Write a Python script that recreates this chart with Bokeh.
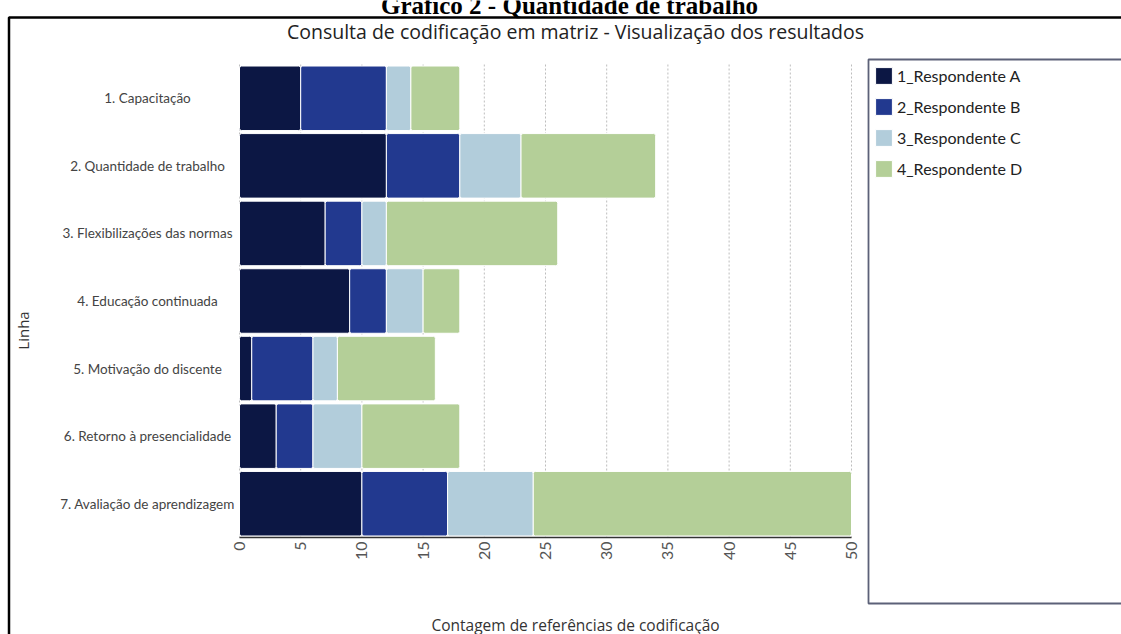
import math
from bokeh.plotting import figure
from bokeh.models import (ColumnDataSource, Range1d, Legend, LegendItem,
                          LabelSet, Label, BoxAnnotation)
from bokeh.embed import file_html
from bokeh.resources import INLINE
from bokeh.core.properties import value

categories = ["1. Capacitação", "2. Quantidade de trabalho", "3. Flexibilizações das normas",
              "4. Educação continuada", "5. Motivação do discente",
              "6. Retorno à presencialidade", "7. Avaliação de aprendizagem"]
series = ["1_Respondente A", "2_Respondente B", "3_Respondente C", "4_Respondente D"]
resp_a = [5, 12, 7, 9, 1, 3, 10]
resp_b = [7, 6, 3, 3, 5, 3, 7]
resp_c = [2, 5, 2, 3, 2, 4, 7]
resp_d = [4, 11, 14, 3, 8, 8, 26]
x_ticks = list(range(0, 55, 5))
colors = ["#0c1744", "#22398f", "#b2cddb", "#b4cf98"]

W, H = 1121, 634
FONT = "Open Sans"

# layout of the plotting area inside the canvas (pixels)
PLOT_L, PLOT_R = 239, 851          # x of first and last tick value
PLOT_T, PLOT_B = 64, 537           # top of first row, bottom of last row
n = len(categories)
PX = (PLOT_R - PLOT_L) / (x_ticks[-1] - x_ticks[0])
ROW = (PLOT_B - PLOT_T) / n

rows = list(range(n))
source = ColumnDataSource(dict(row=rows, cat=categories,
                               **{series[0]: resp_a, series[1]: resp_b,
                                  series[2]: resp_c, series[3]: resp_d}))

p = figure(width=W, height=H,
           x_range=Range1d(-PLOT_L / PX, (W - PLOT_L) / PX),
           y_range=Range1d(-0.5 + (H - PLOT_T) / ROW, -0.5 - PLOT_T / ROW),
           x_axis_type=None, y_axis_type=None,
           output_backend="svg", toolbar_location=None,
           min_border=0)
p.outline_line_color = None
p.background_fill_color = "white"
p.border_fill_color = "white"

# grid lines (dotted)
p.segment(x0=x_ticks, x1=x_ticks, y0=-0.5, y1=n - 0.5, line_color="#bdbdbd",
          line_dash="2 2", line_width=1)

renderers = p.hbar_stack(series, y="row", height=0.955, color=colors, source=source,
                         line_color="white", line_width=1, border_radius=2)

# x axis line and tick labels
p.segment(x0=x_ticks[0], x1=x_ticks[-1], y0=n - 0.5, y1=n - 0.5,
          line_color="#333333", line_width=1.5)
tick_src = ColumnDataSource(dict(t=x_ticks, tl=[str(t) for t in x_ticks]))
p.add_layout(LabelSet(x="t", y=n - 0.5, text="tl", source=tick_src, angle=math.pi / 2,
                      y_offset=-4, text_align="right", text_baseline="middle",
                      text_font=value("Lato"), text_font_size="16px", text_color="#555555"))

# category labels, centered left of the plot
p.add_layout(LabelSet(x=147, y="row", text="cat", source=source, x_units="screen",
                      text_align="center", text_baseline="middle",
                      text_font=value("Lato"), text_font_size="13.5px", text_color="#444444"))

# legend (tuple location = bottom-left corner, measured from the bottom)
LEG_TOP, GLYPH, GAP = 65, 21, 10
leg_h = len(series) * GLYPH + (len(series) - 1) * GAP
legend = Legend(items=[LegendItem(label=s, renderers=[r]) for s, r in zip(series, renderers)],
                location=(873, H - LEG_TOP - leg_h), padding=0, margin=0,
                border_line_color=None, background_fill_alpha=0,
                glyph_width=GLYPH, glyph_height=GLYPH, label_height=GLYPH,
                spacing=GAP, label_standoff=3, label_text_font="Lato",
                label_text_font_size="16px", label_text_color="#222222")
p.add_layout(legend, "center")

# legend frame
p.add_layout(BoxAnnotation(left=868, right=1400, top=H - 59, bottom=H - 603,
                           left_units="screen", right_units="screen",
                           top_units="screen", bottom_units="screen",
                           fill_alpha=0, line_color="#5c6178", line_alpha=1, line_width=1.8))
# outer black frame
p.add_layout(BoxAnnotation(left=8.5, right=1400, top=H - 17, bottom=-100,
                           left_units="screen", right_units="screen",
                           top_units="screen", bottom_units="screen",
                           fill_alpha=0, line_color="black", line_alpha=1, line_width=2.5))

# texts
p.add_layout(Label(x=569, y=H - 5, x_units="screen", y_units="screen",
                   text="Gráfico 2 - Quantidade de trabalho", text_align="center",
                   text_baseline="alphabetic", text_font="Liberation Serif",
                   text_font_style="bold", text_font_size="25px", text_color="black"))
p.add_layout(Label(x=575, y=H - 31, x_units="screen", y_units="screen",
                   text="Consulta de codificação em matriz - Visualização dos resultados",
                   text_align="center", text_baseline="middle", text_font=FONT,
                   text_font_size="19.5px", text_color="#222222"))
p.add_layout(Label(x=575, y=H - 624, x_units="screen", y_units="screen",
                   text="Contagem de referências de codificação",
                   text_align="center", text_baseline="middle", text_font=FONT,
                   text_font_size="15.5px", text_color="#333333"))
p.add_layout(Label(x=22, y=H - 330, x_units="screen", y_units="screen", text="Linha",
                   angle=math.pi / 2, text_align="center", text_baseline="middle",
                   text_font=FONT, text_font_size="15px", text_color="#333333"))

open("out.html", "w").write(file_html(p, INLINE))
